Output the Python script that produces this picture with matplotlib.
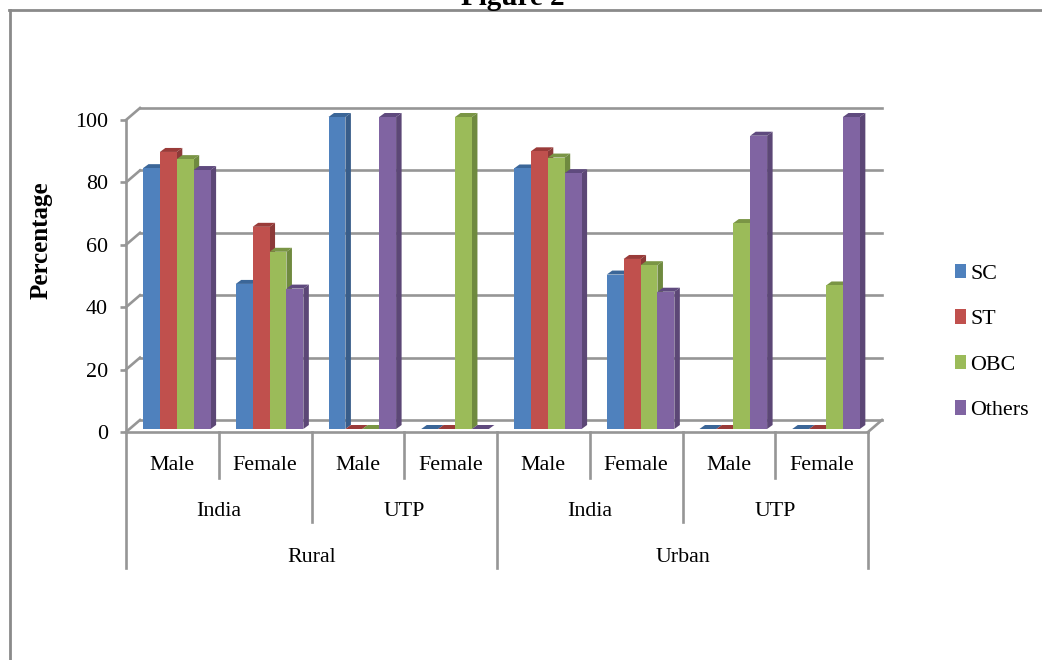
import numpy as np
import matplotlib
matplotlib.use('Agg')
import matplotlib.pyplot as plt
from matplotlib.patches import Polygon

plt.rcParams['font.family'] = ['Liberation Serif', 'DejaVu Serif']

series_names = ['SC', 'ST', 'OBC', 'Others']
sc = [83.6, 46.5, 100, 0, 83.5, 49.5, 0, 0]
st = [88.8, 64.8, 0, 0, 89, 54.5, 0, 0]
obc = [86.5, 56.8, 0, 100, 87, 52.5, 66, 46]
others = [83, 45, 100, 0, 82, 44, 94, 100]

sex_labels = ['Male', 'Female', 'Male', 'Female', 'Male', 'Female', 'Male', 'Female']
area_labels = ['India', 'UTP', 'India', 'UTP']
sector_labels = ['Rural', 'Urban']
y_ticks = [0, 20, 40, 60, 80, 100]

front_colors = ['#4f81bd', '#c0504d', '#9bbb59', '#8064a2']
top_colors = ['#3b6698', '#9a3b39', '#7a9545', '#5f4a7e']
side_colors = ['#385d8a', '#8c3a38', '#6f8a3f', '#5c4776']
grid_color = '#969696'

W, H = 1042, 660
fig = plt.figure(figsize=(W / 100, H / 100), dpi=100)
ax = fig.add_axes([126 / W, 1 - 432 / H, 742 / W, 312 / H])
ax.set_xlim(0, 8)
ax.set_ylim(0, 100)

# one pixel in data units
px = 8 / 742
py = 100 / 312

# back wall and floor
wall_dx, wall_dy = 14 * px, 12 * py
for t in y_ticks:
    ax.plot([wall_dx, 8 + wall_dx], [t + wall_dy, t + wall_dy], color=grid_color, lw=1.9, clip_on=False, zorder=1)
    ax.plot([0, wall_dx], [t, t + wall_dy], color=grid_color, lw=1.9, clip_on=False, zorder=1)
ax.plot([0, 8], [0, 0], color=grid_color, lw=1.9, clip_on=False, zorder=2)
ax.plot([8, 8 + wall_dx], [0, wall_dy], color=grid_color, lw=1.9, clip_on=False, zorder=2)

# bars, with fake 3d faces
bar_w = 16.9 * px
start = 17 * px
base = 3 * py
dx, dy = 5.5 * px, 4 * py
groups = np.arange(8)
z = 3
for g in groups:
    for i, vals in enumerate([sc, st, obc, others]):
        x0 = g + start + i * bar_w
        v = vals[g] + base
        ax.bar(x0, vals[g], bar_w, bottom=base, align='edge', color=front_colors[i], lw=0,
               clip_on=False, zorder=z + 0.2, label=series_names[i] if g == 0 else None)
        ax.add_patch(Polygon([[x0, v], [x0 + dx, v + dy], [x0 + bar_w + dx, v + dy], [x0 + bar_w, v]],
                             color=top_colors[i], lw=0, clip_on=False, zorder=z))
        ax.add_patch(Polygon([[x0 + bar_w, base], [x0 + bar_w + dx, base + dy], [x0 + bar_w + dx, v + dy], [x0 + bar_w, v]],
                             color=side_colors[i], lw=0, clip_on=False, zorder=z))
        z += 1

# value axis
for s in ['top', 'right', 'bottom']:
    ax.spines[s].set_visible(False)
ax.spines['left'].set_color(grid_color)
ax.spines['left'].set_linewidth(1.9)
ax.set_xticks([])
ax.set_yticks(y_ticks)
ax.tick_params(axis='y', length=4.5, width=1.9, color=grid_color, labelsize=15.8, pad=8.5)
ax.set_ylabel('Percentage', fontsize=18, fontweight='bold', labelpad=0)
ax.yaxis.set_label_coords((53 - 126) / 742, 0.615)

# multi level category axis
lvl1, lvl2, lvl3 = -46 * py, -90 * py, -136 * py
for x in range(9):
    if x in (0, 4, 8):
        bottom = lvl3
    elif x % 2 == 0:
        bottom = lvl2
    else:
        bottom = lvl1
    ax.plot([x, x], [0, bottom], color=grid_color, lw=1.9, clip_on=False, zorder=2)

for i, label in enumerate(sex_labels):
    ax.text(i + 0.5, -33 * py, label, ha='center', va='center', fontsize=15.8)
for i, label in enumerate(area_labels):
    ax.text(2 * i + 1, -79 * py, label, ha='center', va='center', fontsize=15.8)
for i, label in enumerate(sector_labels):
    ax.text(4 * i + 2, -125 * py, label, ha='center', va='center', fontsize=15.8)

ax.legend(loc='center left', bbox_to_anchor=(955 / W, 1 - 342 / H), bbox_transform=fig.transFigure,
          frameon=False, fontsize=15.8, handlelength=0.5, handleheight=0.65, handletextpad=0.2,
          labelspacing=1.16, borderpad=0, borderaxespad=0)

# outer frame and the cut off caption
fig.add_artist(plt.Line2D([10 / W, 10 / W], [0, 1 - 10 / H], color='#8a8a8a', lw=2))
fig.add_artist(plt.Line2D([9 / W, 1], [1 - 10 / H, 1 - 10 / H], color='#8a8a8a', lw=2))
fig.text(513 / W, 1 - 5 / H, 'Figure 2', ha='center', va='baseline', fontsize=21, fontweight='bold')

fig.savefig('out.png', dpi=100)
